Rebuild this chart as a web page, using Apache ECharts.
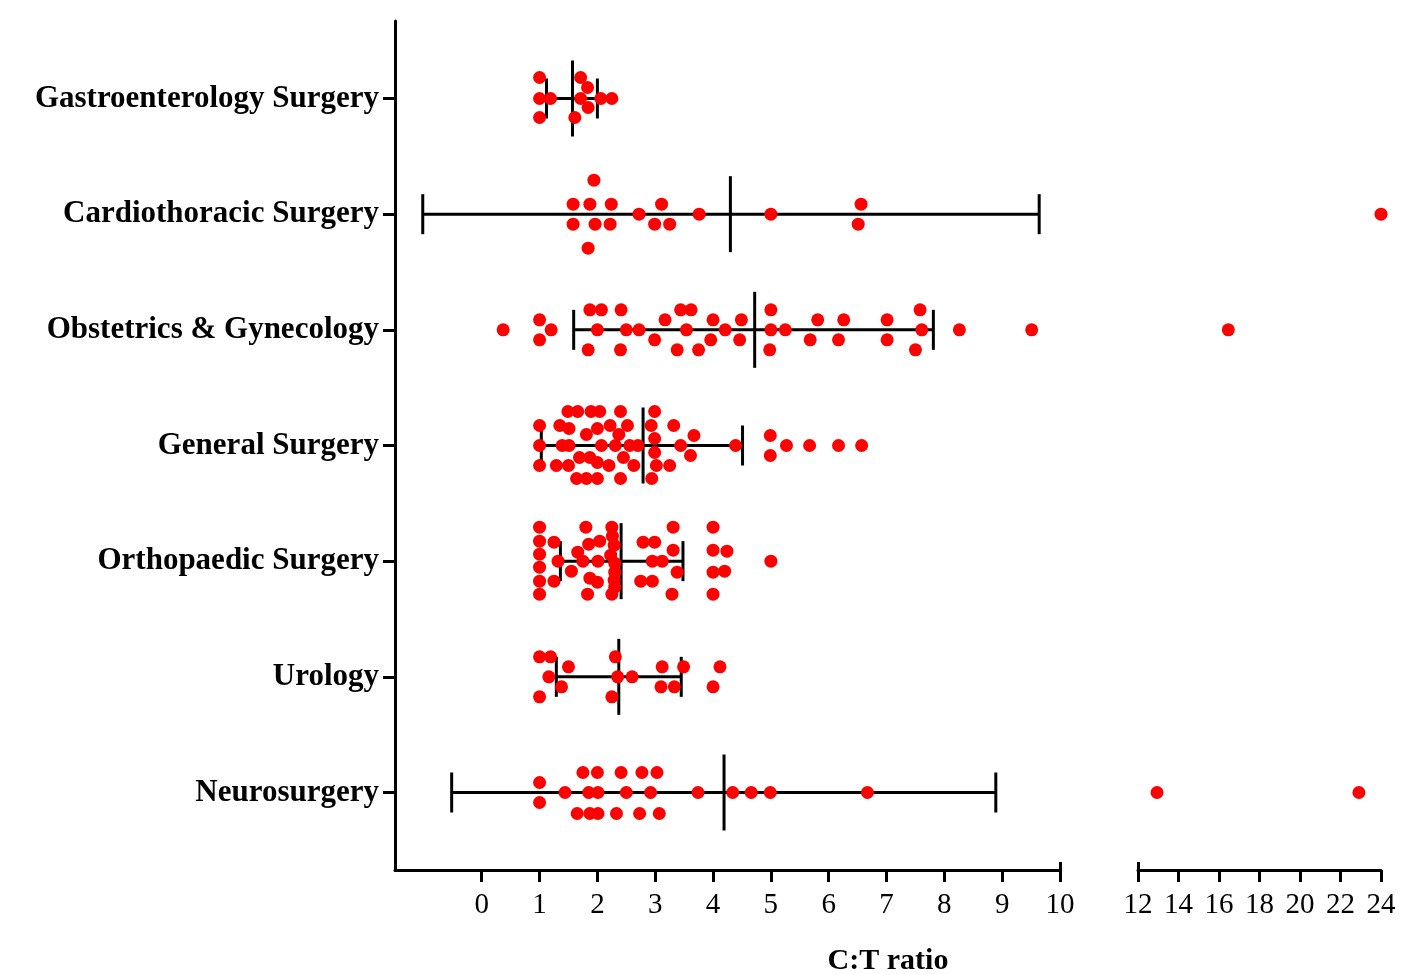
<!DOCTYPE html>
<html>
<head>
<meta charset="utf-8">
<script src="https://cdn.jsdelivr.net/npm/echarts@6/dist/echarts.min.js"></script>
<style>
html,body{margin:0;padding:0;background:#fff;}
#chart{width:1412px;height:974px;}
</style>
</head>
<body>
<div id="chart"></div>
<script>
// ---------- DATA ----------
const categories = ['Gastroenterology Surgery','Cardiothoracic Surgery','Obstetrics & Gynecology','General Surgery','Orthopaedic Surgery','Urology','Neurosurgery'];

const xLeftTicks = [0,1,2,3,4,5,6,7,8,9,10];
const xRightTicks = [12,14,16,18,20,22,24];

// C:T ratio values per specialty, with swarm jitter (vertical spread of the dot, in px)
const gastroValues = [1.0,1.0,1.0,1.19,1.71,1.83,1.71,1.84,2.06,2.25,1.61];
const gastroJitter = [-21,0,19,0,-21,-11,0,9,0,0,19];

const cardioValues = [1.94,1.58,1.87,2.24,1.58,1.96,2.22,1.84,2.72,3.11,2.99,3.25,3.76,5.0,6.56,6.51,24.0];
const cardioJitter = [-34,-10,-10,-10,10,10,10,34,0,-10,10,10,0,0,-10,10,0];

const obgynValues = [0.37,1.0,1.0,1.2,1.87,2.07,2.0,1.84,2.41,2.5,2.4,2.72,3.17,2.99,3.44,3.62,3.54,3.38,3.75,4.0,3.96,4.21,4.49,4.46,5.0,5.0,4.98,5.25,5.81,5.68,6.26,6.17,7.01,7.01,7.58,7.61,7.5,8.26,9.51,16.46];
const obgynJitter = [0,-10,10,0,-20,-20,0,20,-20,0,20,0,-10,10,-20,-20,0,20,20,-10,10,0,-10,10,-20,0,20,0,-10,10,-10,10,-10,10,-20,0,20,0,0,0];

const generalValues = [1.49,1.66,1.89,2.04,2.40,2.99,
  1.0,1.35,2.22,2.52,2.93,3.32,
  1.51,2.0,
  1.81,2.37,3.67,2.99,
  1.0,1.39,1.51,2.07,2.31,2.56,2.70,3.44,4.39,5.27,5.67,6.17,6.57,
  4.99,4.99,2.99,
  1.69,1.87,2.45,3.61,
  2.0,
  1.0,1.29,1.50,2.2,2.63,3.02,3.25,
  1.64,1.81,2.0,2.40,2.94];
const generalJitter = [-34,-34,-34,-34,-34,-34,
  -20,-20,-20,-20,-20,-20,
  -17,-17,
  -11,-11,-10,-7,
  0,0,0,0,0,0,0,0,0,0,0,0,0,
  -10,10,7,
  12,12,12,10,
  17,
  20,20,20,20,20,20,20,
  33,33,33,33,33];

const orthoValues = [1.0,1.0,1.0,1.0,1.0,1.0,
  1.25,1.32,1.25,1.55,1.66,1.75,1.80,1.85,1.87,2.0,1.83,2.01,2.04,
  2.25,2.26,2.29,2.23,2.30,2.30,2.29,2.30,2.25,
  2.79,2.99,2.95,3.12,2.75,2.95,3.31,3.31,3.38,3.29,
  4.0,4.0,4.24,4.0,4.20,4.0,5.0];
const orthoJitter = [-34,-20,-7,6,20,33,
  -19,0,20,10,-9,0,-34,-17,17,21,33,0,-20,
  -34,-25,-16,-6,2,11,19,26,33,
  -19,-19,0,0,20,20,-34,-11,11,33,
  -34,-11,-10,11,10,33,0];

const urologyValues = [1.0,1.19,1.5,1.16,1.38,1.0,2.31,2.35,2.6,2.25,3.12,3.49,3.10,3.33,4.12,4.0];
const urologyJitter = [-20,-20,-10,0,10,20,-20,0,0,20,-10,-10,10,10,-10,10];

const neuroValues = [1.0,1.0,1.44,1.75,2.0,1.85,2.01,1.65,1.87,2.01,2.41,2.5,2.33,2.77,3.03,2.92,2.73,3.07,3.74,4.34,4.66,4.99,6.67,12.94,22.91];
const neuroJitter = [-10,10,0,-20,-20,0,0,21,21,21,-20,0,21,-20,-20,0,21,21,0,0,0,0,0,0,0];

// Mean and error bar ends
const means   = [1.57, 4.30, 4.72, 2.79, 2.41, 2.37, 4.19];
const errLow  = [1.12, -1.02, 1.59, 1.03, 1.36, 1.29, -0.52];
const errHigh = [2.00, 9.64, 7.81, 4.51, 3.48, 3.45, 8.89];

// ---------- BUILD ----------
const groups = [
  [gastroValues, gastroJitter],
  [cardioValues, cardioJitter],
  [obgynValues, obgynJitter],
  [generalValues, generalJitter],
  [orthoValues, orthoJitter],
  [urologyValues, urologyJitter],
  [neuroValues, neuroJitter]
];
const BREAK = 10;
const leftDots = [], rightDots = [];
groups.forEach(function(g, ci){
  g[0].forEach(function(v, k){
    const item = {value:[v, ci], symbolOffset:[0, g[1][k]]};
    (v <= BREAK ? leftDots : rightDots).push(item);
  });
});
const errData = categories.map(function(c, i){ return [i, means[i], errLow[i], errHigh[i]]; });

const FONT = 'Liberation Serif, Times New Roman, serif';
const RED = '#ff0000';
const yRange = {min:-0.67, max:6.67};

const chart = echarts.init(document.getElementById('chart'));
chart.setOption({
  animation:false,
  backgroundColor:'#fff',
  grid:[
    {left:395, right:352, top:21, bottom:104},
    {left:1138, right:31, top:21, bottom:104}
  ],
  xAxis:[
    {gridIndex:0, type:'value', min:-1.5, max:10, position:'bottom',
     axisLine:{show:true, onZero:false, lineStyle:{color:'#000', width:3}},
     axisTick:{show:true, customValues:xLeftTicks, length:12, lineStyle:{color:'#000', width:3}},
     axisLabel:{show:true, customValues:xLeftTicks, margin:21, color:'#000', fontFamily:FONT, fontSize:29},
     splitLine:{show:false}},
    {gridIndex:1, type:'value', min:12, max:24, position:'bottom',
     axisLine:{show:true, onZero:false, lineStyle:{color:'#000', width:3}},
     axisTick:{show:true, customValues:xRightTicks, length:12, lineStyle:{color:'#000', width:3}},
     axisLabel:{show:true, customValues:xRightTicks, margin:21, color:'#000', fontFamily:FONT, fontSize:29},
     splitLine:{show:false}},
    {gridIndex:0, type:'value', min:-1.5, max:10, position:'bottom',
     axisLine:{show:false, onZero:false},
     axisTick:{show:true, inside:true, customValues:[10], length:8, lineStyle:{color:'#000', width:3}},
     axisLabel:{show:false}, splitLine:{show:false}},
    {gridIndex:1, type:'value', min:12, max:24, position:'bottom',
     axisLine:{show:false, onZero:false},
     axisTick:{show:true, inside:true, customValues:[12], length:8, lineStyle:{color:'#000', width:3}},
     axisLabel:{show:false}, splitLine:{show:false}}
  ],
  yAxis:[
    {gridIndex:0, type:'value', inverse:true, min:yRange.min, max:yRange.max, position:'left',
     axisLine:{show:true, onZero:false, lineStyle:{color:'#000', width:3}},
     axisTick:{show:true, customValues:[0,1,2,3,4,5,6], length:12, lineStyle:{color:'#000', width:3}},
     axisLabel:{show:true, customValues:[0,1,2,3,4,5,6], margin:16, color:'#000', fontFamily:FONT, fontSize:31, fontWeight:'bold',
       formatter:function(v){ return categories[Math.round(v)] || ''; }},
     splitLine:{show:false}},
    {gridIndex:1, type:'value', inverse:true, min:yRange.min, max:yRange.max,
     axisLine:{show:false, onZero:false}, axisTick:{show:false}, axisLabel:{show:false}, splitLine:{show:false}}
  ],
  graphic:[
    {type:'text', x:888, y:961, style:{text:'C:T ratio', font:'bold 30px ' + FONT, fill:'#000', align:'center', verticalAlign:'middle'}}
  ],
  series:[
    {type:'custom', xAxisIndex:0, yAxisIndex:0, z:2, clip:false,
     encode:{x:[1,2,3], y:0},
     data:errData,
     renderItem:function(params, api){
       const cat = api.value(0);
       const pm = api.coord([api.value(1), cat]);
       const pl = api.coord([api.value(2), cat]);
       const ph = api.coord([api.value(3), cat]);
       const st = {stroke:'#000', lineWidth:3, fill:null};
       return {type:'group', children:[
         {type:'line', shape:{x1:pl[0], y1:pl[1], x2:ph[0], y2:ph[1]}, style:st},
         {type:'line', shape:{x1:pl[0], y1:pl[1]-20, x2:pl[0], y2:pl[1]+20}, style:st},
         {type:'line', shape:{x1:ph[0], y1:ph[1]-20, x2:ph[0], y2:ph[1]+20}, style:st},
         {type:'line', shape:{x1:pm[0], y1:pm[1]-38, x2:pm[0], y2:pm[1]+38}, style:st}
       ]};
     }},
    {type:'scatter', xAxisIndex:0, yAxisIndex:0, z:3, clip:false, symbol:'circle', symbolSize:13,
     itemStyle:{color:RED, opacity:1}, data:leftDots},
    {type:'scatter', xAxisIndex:1, yAxisIndex:1, z:3, clip:false, symbol:'circle', symbolSize:13,
     itemStyle:{color:RED, opacity:1}, data:rightDots}
  ]
});
</script>
</body>
</html>
